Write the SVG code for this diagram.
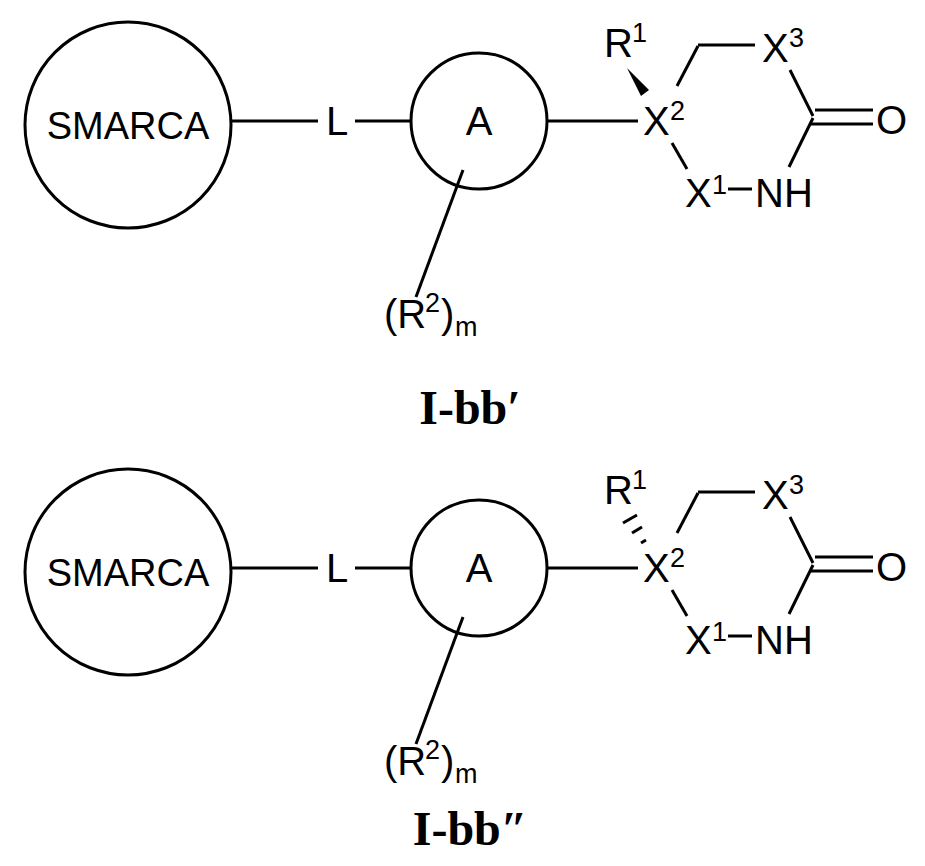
<svg xmlns="http://www.w3.org/2000/svg" width="925" height="866" viewBox="0 0 925 866">
<style>
.b{stroke:#000;stroke-width:3;fill:none}
.t{font-family:"Liberation Sans",Arial,sans-serif;font-size:40px;fill:#000}
.s{font-family:"Liberation Sans",Arial,sans-serif;font-size:27px;fill:#000}
.ti{font-family:"Liberation Serif","Times New Roman",serif;font-size:48px;font-weight:bold;fill:#000}
</style>
<rect width="925" height="866" fill="#fff"/>
<defs>
<g id="core">
<g class="b">
<line x1="231" y1="121" x2="318" y2="121"/>
<line x1="355" y1="121" x2="411" y2="121"/>
<line x1="463" y1="170" x2="416" y2="297"/>
<line x1="548" y1="121" x2="638" y2="121"/>
<line x1="677" y1="86" x2="698" y2="46"/>
<line x1="698" y1="45" x2="755" y2="45"/>
<line x1="790" y1="70" x2="813" y2="116"/>
<line x1="815" y1="110" x2="873" y2="110"/>
<line x1="810" y1="124" x2="873" y2="124"/>
<line x1="813" y1="118" x2="789" y2="167"/>
<line x1="672" y1="143" x2="687" y2="169"/>
<line x1="728" y1="189" x2="752" y2="189"/>
</g>
<text class="t" x="755" y="207">NH</text>
<text class="t" x="685" y="207">X</text><text class="s" x="712" y="194">1</text>
<text class="t" x="643" y="135">X</text><text class="s" x="670" y="120">2</text>
<text class="t" x="762" y="62">X</text><text class="s" x="789" y="47">3</text>
<text class="t" x="876" y="134">O</text>
<text class="t" x="604" y="57">R</text><text class="s" x="632" y="42">1</text>
<text class="t" x="384" y="328">(R</text><text class="s" x="425" y="312">2</text><text class="t" x="441" y="328">)</text><text class="s" x="455" y="336">m</text>
</g>
</defs>
<g id="structure1">
<use href="#core"/>
<g id="smarca1"><circle class="b" cx="128" cy="125" r="103"/><text class="t" x="128" y="139" text-anchor="middle" style="font-size:38px">SMARCA</text></g>
<g id="L1"><text class="t" x="337" y="135" text-anchor="middle">L</text></g>
<g id="A1"><circle class="b" cx="479" cy="121" r="68"/><text class="t" x="479" y="135" text-anchor="middle">A</text></g>
<polygon points="627,68 641,96 649,90" fill="#000"/>
<text class="ti" x="470" y="424" text-anchor="middle">I-bb′</text>
</g>
<g id="structure2" transform="translate(0,447)">
<use href="#core"/>
<g id="smarca2"><circle class="b" cx="128" cy="125" r="103"/><text class="t" x="128" y="139" text-anchor="middle" style="font-size:38px">SMARCA</text></g>
<g id="L2"><text class="t" x="337" y="135" text-anchor="middle">L</text></g>
<g id="A2"><circle class="b" cx="479" cy="121" r="68"/><text class="t" x="479" y="135" text-anchor="middle">A</text></g>
<g class="b">
<line x1="623" y1="76" x2="637" y2="68"/>
<line x1="632" y1="86" x2="642" y2="80"/>
<line x1="641" y1="96" x2="646" y2="93"/>
</g>
<text class="ti" x="470" y="398" text-anchor="middle">I-bb″</text>
</g>
</svg>
